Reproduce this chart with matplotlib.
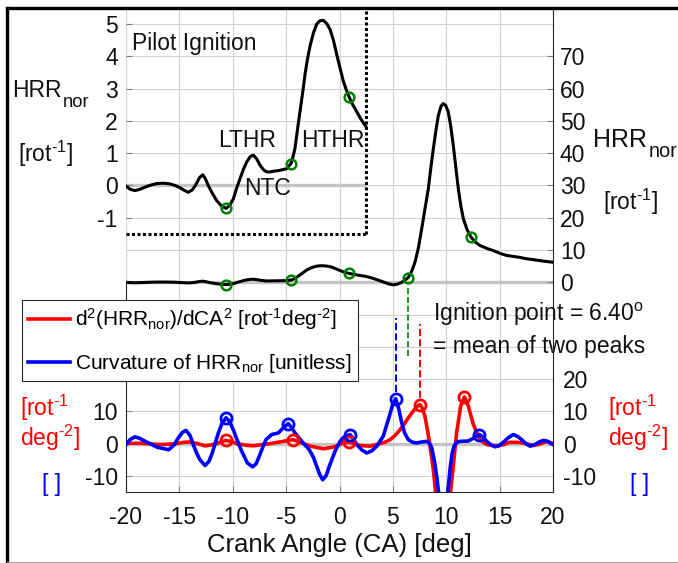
import numpy as np
import matplotlib
matplotlib.use('Agg')
import matplotlib.pyplot as plt
from matplotlib.lines import Line2D

plt.rcParams['font.family'] = ['Liberation Sans', 'DejaVu Sans']
plt.rcParams['mathtext.default'] = 'regular'
plt.rcParams['axes.unicode_minus'] = False

# ---------------- data ----------------
# normalised heat release rate [rot^-1] vs crank angle [deg]
ca_hrr = [-20.0, -19.6, -19.16, -18.7, -18.2, -17.6, -17.1, -16.5, -15.9, -15.4,
          -14.94, -14.5, -14.16, -13.8, -13.5, -13.1, -12.8, -12.55, -12.3, -11.9,
          -11.5, -11.05, -10.63, -10.3, -9.95, -9.65, -9.32, -9.0, -8.69, -8.35,
          -8.07, -7.75, -7.45, -7.1, -6.82, -6.5, -6.2, -5.57, -4.95, -4.54,
          -4.35, -4.17, -3.95, -3.7, -3.45, -3.23, -3.0, -2.76, -2.45, -2.14,
          -1.85, -1.52, -1.2, -0.89, -0.57, -0.26, 0.05, 0.36, 0.65, 0.92,
          1.25, 1.61, 2.0, 2.48, 3.0, 3.5, 4.1, 4.6, 5.04, 5.45,
          5.83, 6.15, 6.45, 6.75, 7.07, 7.4, 7.7, 8.0, 8.32, 8.55,
          8.79, 9.03, 9.26, 9.5, 9.72, 9.95, 10.19, 10.42, 10.66, 10.9,
          11.13, 11.36, 11.6, 11.95, 12.32, 12.7, 13.16, 13.8, 14.41, 15.0,
          15.66, 16.3, 16.91, 17.5, 18.16, 19.0, 20.0]
hrr_nor = [-0.02, -0.12, -0.16, -0.12, -0.05, 0.02, 0.06, 0.07, 0.05, 0.0,
           -0.07, -0.16, -0.21, -0.14, 0.0, 0.25, 0.33, 0.2, 0.0, -0.25,
           -0.47, -0.64, -0.71, -0.62, -0.42, -0.1, 0.21, 0.5, 0.73, 0.9,
           0.94, 0.82, 0.63, 0.48, 0.42, 0.42, 0.44, 0.47, 0.52, 0.68,
           0.9, 1.15, 1.7, 2.29, 2.88, 3.44, 3.92, 4.32, 4.72, 5.0,
           5.1, 5.12, 5.02, 4.84, 4.5, 4.06, 3.64, 3.23, 2.95, 2.73,
           2.5, 2.29, 2.06, 1.82, 1.35, 0.8, 0.1, -0.5, -0.8, -0.55,
           0.0, 0.7, 1.5, 3.3, 6.2, 10.8, 16.6, 22.6, 29.0, 35.3,
           41.4, 47.0, 51.7, 54.5, 55.4, 54.8, 52.8, 48.4, 42.4, 35.5,
           29.0, 23.8, 19.7, 16.3, 14.0, 12.5, 11.4, 10.5, 9.8, 9.0,
           8.3, 8.0, 7.7, 7.3, 7.0, 6.6, 6.2]

# green markers on the HRR curve
ca_hrr_pts = [-10.63, -4.54, 0.92, 6.40, 12.32]
hrr_pts = [-0.71, 0.68, 2.73, 1.4, 14.0]

# second derivative d2(HRR_nor)/dCA2 [rot^-1 deg^-2]
ca_d2 = [-20.0, -19.3, -18.7, -17.7, -16.8, -16.0, -15.3, -14.6, -14.06, -13.3,
         -12.6, -12.0, -11.5, -11.05, -10.63, -10.1, -9.63, -8.8, -8.07, -7.2,
         -6.5, -5.8, -5.26, -4.8, -4.33, -3.9, -3.4, -2.7, -2.14, -1.5,
         -0.6, 0.05, 0.36, 0.9, 1.4, 1.93, 2.86, 3.8, 4.3, 4.73,
         5.2, 5.67, 6.05, 6.45, 6.8, 7.07, 7.3, 7.54, 7.75, 8.0,
         8.25, 8.48, 8.79, 9.04, 9.4, 9.7, 10.0, 10.35, 10.66, 10.97,
         11.35, 11.7, 12.07, 12.54, 13.16, 13.79, 14.73, 15.35, 15.97, 16.6,
         17.22, 18.16, 18.8, 19.41, 20.0]
d2_hrr = [0.0, 0.1, 0.1, -0.1, -0.3, -0.2, 0.0, 0.4, 0.5, 0.0,
          -0.7, -0.4, 0.0, 0.6, 1.0, 0.6, 0.0, -0.5, -0.7, -0.3,
          0.0, 0.4, 0.7, 1.0, 1.2, 0.7, 0.0, -0.8, -1.2, -1.6,
          -1.1, -0.3, 0.3, 0.4, 0.0, -0.6, -0.8, 0.0, 0.5, 1.2,
          2.5, 4.3, 6.0, 8.0, 9.6, 10.8, 11.6, 12.1, 11.0, 8.5,
          4.0, -0.8, -8.0, -16.5, -32.0, -40.0, -32.0, -16.5, -7.0, 3.3,
          11.6, 14.5, 11.6, 5.9, 1.2, -0.3, -0.8, -0.3, 0.4, 0.4,
          0.2, -0.6, -0.1, 0.7, 0.0]
ca_d2_pts = [-10.63, -4.4, 0.9, 7.54, 11.7]
d2_pts = [1.0, 1.2, 0.4, 12.1, 14.5]

# curvature of HRR_nor [unitless]
ca_curv = [-20.0, -19.6, -19.16, -18.7, -18.2, -17.1, -16.0, -15.5, -15.1, -14.7,
           -14.38, -14.0, -13.7, -13.35, -13.07, -12.6, -12.25, -11.97, -11.65, -11.35,
           -11.0, -10.63, -10.3, -9.95, -9.55, -9.16, -8.63, -8.13, -7.8, -7.51,
           -7.2, -6.89, -6.36, -5.73, -5.26, -4.8, -4.5, -4.17, -3.54, -2.83,
           -2.45, -2.14, -1.85, -1.57, -1.25, -0.95, -0.42, 0.05, 0.36, 0.98,
           1.3, 1.61, 2.1, 2.55, 3.0, 3.49, 4.1, 4.67, 5.0, 5.26,
           5.55, 5.83, 6.1, 6.45, 6.85, 7.23, 7.7, 8.17, 8.45, 8.64,
           8.9, 9.1, 9.35, 9.75, 10.1, 10.35, 10.55, 10.73, 11.0, 11.29,
           12.07, 12.6, 13.1, 13.45, 13.79, 14.2, 14.57, 14.95, 15.35, 15.8,
           16.28, 16.65, 17.07, 17.45, 17.85, 18.3, 18.7, 19.1, 19.5, 20.0]
curv_hrr = [-0.3, 1.3, 2.1, 1.6, 0.7, -1.1, -1.9, -0.4, 1.8, 3.5,
            4.1, 2.5, -0.3, -3.2, -5.0, -6.8, -5.6, -3.4, 0.0, 3.3,
            6.3, 8.0, 6.9, 4.3, 0.8, -2.4, -6.0, -7.2, -6.2, -3.9,
            -1.2, 1.2, 2.8, 3.3, 4.9, 6.2, 5.0, 3.3, 0.7, -1.9,
            -4.2, -7.0, -9.6, -11.2, -9.9, -7.0, -2.4, 0.7, 1.9, 2.8,
            1.4, -0.3, -2.0, -2.9, -2.3, -0.8, 2.3, 8.5, 12.3, 13.9,
            10.8, 6.4, 3.3, 1.2, 0.4, 0.2, 0.5, 0.7, 0.0, -1.3,
            -5.5, -10.0, -17.0, -24.0, -17.0, -8.0, -3.0, -0.8, 0.4, 0.7,
            0.8, 1.8, 2.8, 2.0, 0.7, -0.4, -1.0, -0.6, 0.4, 1.8,
            2.8, 2.3, 1.2, 0.0, -0.8, -0.3, 0.5, 1.0, 0.7, -0.3]
ca_curv_pts = [-10.63, -4.8, 0.98, 5.26, 13.1]
curv_pts = [8.0, 6.2, 2.8, 13.9, 2.8]

ign_ca = 6.40          # mean of the two peaks
pilot_end = 2.5        # right edge of the pilot-ignition zoom box
pilot_floor = -1.5

# ---------------- figure ----------------
W, H = 678, 563
def fx(x):
    return x / W
def fy(y):
    return 1 - y / H

FS = 16.5
HY = '\u2010'          # plain hyphen for the exponents
dark = '#262626'
ink = '#111111'
gridc = '#d2d2d2'
zeroc = '#c4c4c4'

fig = plt.figure(figsize=(W / 100, H / 100), dpi=100)
ax = fig.add_axes([fx(126), fy(492), (553 - 126) / W, (492 - 8) / H])
ax.set_xlim(-20, 20)
ax.set_ylim(-15, 135)

# lower panel: derivative and curvature
ax.axhline(0, color=zeroc, lw=2.4, zorder=1)
l_red, = ax.plot(ca_d2, d2_hrr, color='#ff0000', lw=2.6, zorder=3,
                 solid_joinstyle='round')
l_blue, = ax.plot(ca_curv, curv_hrr, color='#0000ff', lw=2.6, zorder=4,
                  solid_joinstyle='round')
ax.plot(ca_d2_pts, d2_pts, 'o', mfc='none', mec='#ff0000', ms=8, mew=2, zorder=5)
ax.plot(ca_curv_pts, curv_pts, 'o', mfc='none', mec='#0000ff', ms=8, mew=2, zorder=6)
ax.vlines(ca_curv_pts[3], curv_pts[3] + 2, 39, colors='#0000ff', linestyles='--', lw=1.4)
ax.vlines(ca_d2_pts[3], d2_pts[3] + 2, 37, colors='#ff0000', linestyles='--', lw=1.4)

ax.set_xticks(range(-20, 25, 5))
ax.set_yticks([-10, 0, 10])
ax.set_yticks(np.arange(-10, 140, 10), minor=True)
ax.grid(True, axis='x', color=gridc, lw=0.8)
ax.grid(True, axis='y', which='both', color=gridc, lw=0.8)
ax.set_axisbelow(True)
ax.tick_params(axis='both', which='major', direction='in', length=4, color='#808080',
               labelsize=FS, labelcolor=ink)
ax.tick_params(axis='x', pad=10)
ax.tick_params(axis='y', pad=6)
ax.tick_params(axis='y', which='minor', length=0)
ax.set_xlabel('Crank Angle (CA) [deg]', fontsize=18.5, color=ink, labelpad=3)
for s in ['top', 'right']:
    ax.spines[s].set_visible(False)
ax.spines['left'].set_bounds(-15, 50)
ax.spines['left'].set_color(dark)
ax.spines['bottom'].set_color(dark)

sec = ax.secondary_yaxis('right')
sec.set_yticks([-10, 0, 10, 20])
sec.tick_params(direction='in', length=4, color='#808080', labelsize=FS,
                labelcolor=ink, pad=7)
sec.spines['right'].set_visible(False)

leg = ax.legend([l_red, l_blue],
                ['d$^2$(HRR$_{nor}$)/dCA$^2$ [rot$^{%s1}$deg$^{%s2}$]' % (HY, HY),
                 'Curvature of HRR$_{nor}$ [unitless]'],
                loc='upper left', bbox_to_anchor=(fx(22), fy(300)),
                bbox_transform=fig.transFigure, fontsize=15, fancybox=False,
                edgecolor=dark, framealpha=1, borderaxespad=0, handlelength=2.0,
                handletextpad=0.25, borderpad=0.3, labelspacing=0.95)
leg.get_frame().set_linewidth(0.8)

ax.text(8.73, 37.9, 'Ignition point = %.2f$^o$' % ign_ca, fontsize=FS,
        color=ink, va='baseline')
ax.text(8.73, 28.1, '= mean of two peaks', fontsize=FS, color=ink,
        va='baseline')

# upper panel: HRR on its own scale
axh = ax.twinx()
axh.set_ylim(-65, 85)
axh.axhline(0, color=zeroc, lw=2.4, zorder=1)
axh.plot(ca_hrr, hrr_nor, color='black', lw=2.2, zorder=3)
axh.plot(ca_hrr_pts, hrr_pts, 'o', mfc='none', mec='#008000', ms=7, mew=1.8, zorder=4)
axh.vlines(ign_ca, -23, -1, colors='#008000', linestyles='--', lw=1.2)
axh.set_yticks(range(0, 80, 10))
axh.tick_params(direction='in', length=4, color='#808080', labelsize=FS,
                labelcolor=ink, pad=5)
for s in ['top', 'left', 'bottom']:
    axh.spines[s].set_visible(False)
axh.spines['right'].set_color(dark)

# pilot ignition zoom (same HRR, 10x magnified, shifted)
axp = ax.twinx()
axp.set_ylim(-9.5, 5.5)
axp.yaxis.tick_left()
ca_arr = np.array(ca_hrr)
hrr_arr = np.array(hrr_nor)
keep = ca_arr <= pilot_end
axp.hlines(0, -20, pilot_end, color=zeroc, lw=2.4, zorder=1)
axp.plot(ca_arr[keep], hrr_arr[keep], color='black', lw=2.2, zorder=3)
pil_pts = [i for i, c in enumerate(ca_hrr_pts) if c <= pilot_end]
axp.plot([ca_hrr_pts[i] for i in pil_pts], [hrr_pts[i] for i in pil_pts], 'o',
         mfc='none', mec='#008000', ms=7, mew=1.8, zorder=4)
axp.vlines(pilot_end, pilot_floor, 5.5, colors='black', lw=2.2,
           linestyles=(0, (1.0, 0.8)))
axp.hlines(pilot_floor, -20, pilot_end, colors='black', lw=2.2,
           linestyles=(0, (1.0, 0.8)))
axp.set_yticks(range(-1, 6))
axp.tick_params(direction='in', length=4, color='#808080', labelsize=FS,
                labelcolor=ink, pad=6)
for s in axp.spines.values():
    s.set_visible(False)
axp.text(-19.4, 4.19, 'Pilot Ignition', fontsize=FS, color=ink, va='baseline')
axp.text(-8.67, 1.2, 'LTHR', fontsize=FS, color=ink, ha='center', va='baseline')
axp.text(-0.66, 1.2, 'HTHR', fontsize=FS, color=ink, ha='center', va='baseline')
axp.text(-6.79, -0.29, 'NTC', fontsize=FS, color=ink, ha='center', va='baseline')


# axis captions, "HRR" with a large subscript placed next to it
def hrr_label(x, y, size):
    t = fig.text(fx(x), fy(y), 'HRR', fontsize=size, color=ink, va='baseline')
    ax.annotate('nor', xy=(1, 0), xycoords=t, xytext=(1, -3.5),
                textcoords='offset points', fontsize=size * 0.8, color=ink,
                va='baseline', annotation_clip=False)


hrr_label(12, 97, FS)
fig.text(fx(18), fy(162), '[rot$^{%s1}$]' % HY, fontsize=FS, color=ink, va='baseline')
hrr_label(593, 147, 18)
fig.text(fx(603), fy(210), '[rot$^{%s1}$]' % HY, fontsize=FS, color=ink, va='baseline')
for x0, xb in [(20, 42), (608, 630)]:
    fig.text(fx(x0), fy(416), '[rot$^{%s1}$' % HY, fontsize=FS, color='#ff0000',
             va='baseline')
    fig.text(fx(x0), fy(446), 'deg$^{%s2}$]' % HY, fontsize=FS, color='#ff0000',
             va='baseline')
    fig.text(fx(xb), fy(491), '[ ]', fontsize=FS, color='#0000ff', va='baseline')

# outer frame
fig.add_artist(Line2D([fx(7), 1], [fy(8), fy(8)], color='black', lw=2.4))
fig.add_artist(Line2D([fx(7), fx(7)], [fy(8), 0], color='black', lw=2.4))
fig.add_artist(Line2D([fx(7), 1], [fy(561.5), fy(561.5)], color='#a0a0a0', lw=0.8))

fig.savefig('out.png', dpi=100)
